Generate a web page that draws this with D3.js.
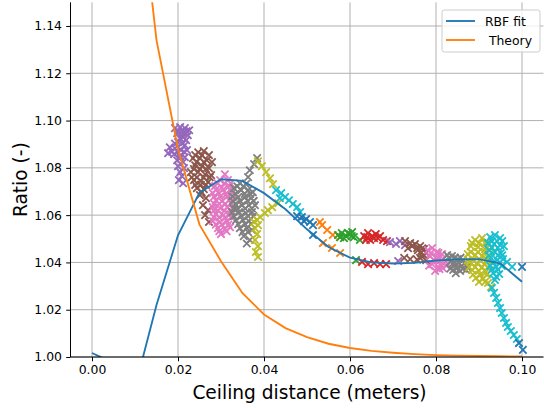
<!DOCTYPE html>
<html>
<head>
<meta charset="utf-8">
<script src="https://cdn.jsdelivr.net/npm/d3@7"></script>
<style>
  body { margin: 0; background: #fff; }
  text { font-family: "DejaVu Sans", sans-serif; fill: #000; }
</style>
</head>
<body>
<script>
// chart size, matches the reference picture
var W = 544, H = 408;
var plot = { left: 70.5, right: 543.5, top: 2.35, bottom: 357 };

// tick labels
var xTicks = [0.00, 0.02, 0.04, 0.06, 0.08, 0.10];
var yTicks = [1.00, 1.02, 1.04, 1.06, 1.08, 1.10, 1.12, 1.14];

// fitted curves, sampled every 0.005 m
var fitX = [0, 0.005, 0.01, 0.015, 0.02, 0.025, 0.03, 0.035, 0.04, 0.045, 0.05,
            0.055, 0.06, 0.065, 0.07, 0.075, 0.08, 0.085, 0.09, 0.095, 0.1];
var rbfY = [1.0017, 0.9975, 0.987, 1.022, 1.0515, 1.0695, 1.0752, 1.0745, 1.0693, 1.0625, 1.054,
            1.0465, 1.042, 1.0400, 1.0395, 1.0398, 1.0408, 1.0413, 1.0414, 1.0395, 1.0318];
var theoryY = [1.45, 1.45, 1.214, 1.134, 1.088, 1.056, 1.0405, 1.027, 1.018, 1.0122, 1.0084,
               1.0056, 1.0038, 1.0026, 1.0018, 1.0012, 1.0008, 1.0006, 1.0004, 1.0003, 1.0002];

// measured points, one array per run
var purpleA = [[0.0193,1.0968],[0.0205,1.0972],[0.0216,1.0968],[0.0226,1.0959],[0.0198,1.0947],[0.0212,1.0947],
  [0.0223,1.0938],[0.0205,1.0925],[0.0219,1.0917],[0.0200,1.0909],[0.0216,1.0896],[0.0181,1.0887],[0.0193,1.0883],
  [0.0207,1.0875],[0.0221,1.0875],[0.0177,1.0862],[0.0191,1.0858],[0.0205,1.0849],[0.0216,1.0845],[0.0198,1.0832],
  [0.0212,1.0824],[0.0200,1.0807],[0.0214,1.0799],[0.0205,1.0782],[0.0209,1.0765],[0.0202,1.0748],[0.0212,1.0735],
  [0.0200,1.0955],[0.0210,1.0955],[0.0220,1.0955],[0.0212,1.0930],[0.0193,1.0903],[0.0209,1.0903],
  [0.0186,1.0868],[0.0199,1.0868],[0.0214,1.0868],[0.0205,1.0840]];
var brownA = [[0.0247,1.0866],[0.0260,1.0871],[0.0272,1.0854],[0.0235,1.0841],[0.0251,1.0841],[0.0267,1.0832],
  [0.0279,1.0824],[0.0240,1.0811],[0.0256,1.0807],[0.0272,1.0799],[0.0230,1.0782],[0.0247,1.0782],[0.0263,1.0773],
  [0.0277,1.0769],[0.0237,1.0748],[0.0253,1.0744],[0.0270,1.0740],[0.0244,1.0714],[0.0260,1.0710],[0.0251,1.0685],
  [0.0265,1.0672],[0.0258,1.0642],[0.0270,1.0621],[0.0263,1.0600],[0.0272,1.0571],
  [0.0240,1.0854],[0.0256,1.0854],[0.0243,1.0824],[0.0260,1.0824],[0.0237,1.0795],[0.0251,1.0795],[0.0265,1.0795],
  [0.0232,1.0760],[0.0244,1.0760],[0.0260,1.0760],[0.0274,1.0760],[0.0240,1.0728],[0.0253,1.0728],[0.0265,1.0728],
  [0.0255,1.0697]];
var pinkA = [[0.0309,1.0773],[0.0298,1.0748],[0.0316,1.0748],[0.0286,1.0723],[0.0302,1.0718],[0.0319,1.0723],
  [0.0281,1.0693],[0.0295,1.0693],[0.0312,1.0689],[0.0326,1.0693],[0.0288,1.0663],[0.0302,1.0659],[0.0319,1.0663],
  [0.0281,1.0634],[0.0298,1.0630],[0.0314,1.0634],[0.0326,1.0630],[0.0288,1.0604],[0.0305,1.0600],[0.0321,1.0604],
  [0.0281,1.0575],[0.0298,1.0571],[0.0314,1.0575],[0.0293,1.0545],[0.0309,1.0541],[0.0321,1.0549],[0.0300,1.0520],
  [0.0292,1.0735],[0.0308,1.0735],[0.0322,1.0735],[0.0288,1.0708],[0.0305,1.0708],[0.0321,1.0708],
  [0.0284,1.0678],[0.0298,1.0678],[0.0314,1.0678],[0.0328,1.0678],[0.0284,1.0648],[0.0296,1.0648],[0.0310,1.0648],
  [0.0324,1.0648],[0.0283,1.0619],[0.0293,1.0619],[0.0308,1.0619],[0.0322,1.0619],[0.0284,1.0590],[0.0296,1.0590],
  [0.0310,1.0590],[0.0324,1.0590],[0.0288,1.0560],[0.0302,1.0560],[0.0317,1.0560],[0.0296,1.0532],[0.0313,1.0532]];
var grayA = [[0.0384,1.0841],[0.0377,1.0816],[0.0367,1.0790],[0.0363,1.0761],[0.0344,1.0735],[0.0358,1.0731],
  [0.0330,1.0714],[0.0347,1.0706],[0.0363,1.0706],[0.0374,1.0697],[0.0326,1.0680],[0.0340,1.0676],[0.0356,1.0676],
  [0.0370,1.0672],[0.0333,1.0647],[0.0349,1.0642],[0.0365,1.0642],[0.0379,1.0642],[0.0326,1.0613],[0.0342,1.0613],
  [0.0358,1.0609],[0.0372,1.0613],[0.0335,1.0579],[0.0351,1.0579],[0.0365,1.0575],[0.0344,1.0545],[0.0360,1.0545],
  [0.0372,1.0537],[0.0353,1.0511],[0.0367,1.0495],
  [0.0338,1.0722],[0.0352,1.0722],[0.0334,1.0690],[0.0355,1.0690],[0.0368,1.0690],[0.0328,1.0660],[0.0345,1.0660],
  [0.0362,1.0660],[0.0376,1.0660],[0.0330,1.0628],[0.0338,1.0628],[0.0356,1.0628],[0.0372,1.0628],[0.0330,1.0596],
  [0.0347,1.0596],[0.0363,1.0596],[0.0375,1.0596],[0.0340,1.0562],[0.0356,1.0562],[0.0370,1.0562],[0.0350,1.0528],
  [0.0363,1.0528],[0.0360,1.0480]];
var oliveA = [[0.0386,1.0828],[0.0395,1.0807],[0.0405,1.0782],[0.0414,1.0756],[0.0421,1.0731],
  [0.0433,1.0651],[0.0419,1.0634],[0.0409,1.0621],[0.0402,1.0609],[0.0391,1.0592],[0.0384,1.0579],[0.0377,1.0571],
  [0.0386,1.0558],[0.0379,1.0545],[0.0384,1.0520],[0.0379,1.0495],[0.0386,1.0469],[0.0381,1.0444],[0.0386,1.0423]];
var cyanA = [[0.0428,1.0706],[0.0440,1.0693],[0.0437,1.0672],[0.0449,1.0676],[0.0458,1.0663],[0.0467,1.0647],
  [0.0477,1.0634],[0.0484,1.0613]];
var blueB = [[0.0477,1.0596],[0.0488,1.0592],[0.0498,1.0583],[0.0507,1.0571],[0.0514,1.0558],[0.0493,1.0575],
  [0.0514,1.0516]];
var orangeB = [[0.0530,1.0571],[0.0535,1.0558],[0.0547,1.0537],[0.0560,1.0516],[0.0577,1.0507],
  [0.0537,1.0482],[0.0558,1.0461],[0.0577,1.0440]];
var greenB = [[0.0572,1.0516],[0.0581,1.0524],[0.0591,1.0511],[0.0600,1.0520],[0.0609,1.0507],[0.0586,1.0503],
  [0.0605,1.0528],[0.0623,1.0495],[0.0614,1.0410],[0.0577,1.0507],[0.0595,1.0524],[0.0604,1.0511]];
var redB = [[0.0633,1.0511],[0.0642,1.0524],[0.0651,1.0511],[0.0647,1.0495],[0.0660,1.0520],[0.0665,1.0503],
  [0.0677,1.0495],[0.0686,1.0490],[0.0637,1.0495],[0.0640,1.0507],[0.0656,1.0503],[0.0670,1.0511],
  [0.0628,1.0402],[0.0642,1.0393],[0.0656,1.0397],[0.0670,1.0393],[0.0684,1.0393]];
var purpleB = [[0.0693,1.0486],[0.0707,1.0478],[0.0716,1.0490],[0.0728,1.0473],[0.0712,1.0406]];
var brownB = [[0.0728,1.0490],[0.0740,1.0482],[0.0751,1.0478],[0.0763,1.0469],[0.0772,1.0456],[0.0758,1.0452],
  [0.0772,1.0431],[0.0763,1.0419],[0.0777,1.0410],[0.0744,1.0469],[0.0726,1.0419],[0.0740,1.0414],
  [0.0735,1.0460],[0.0756,1.0460],[0.0768,1.0460],[0.0765,1.0440],[0.0777,1.0440],[0.0767,1.0425],[0.0756,1.0412]];
var pinkB = [[0.0781,1.0452],[0.0791,1.0461],[0.0802,1.0444],[0.0814,1.0435],[0.0786,1.0427],[0.0800,1.0419],
  [0.0812,1.0410],[0.0823,1.0402],[0.0791,1.0393],[0.0805,1.0381],[0.0816,1.0376],[0.0798,1.0364],
  [0.0788,1.0440],[0.0806,1.0440],[0.0795,1.0410],[0.0805,1.0410],[0.0784,1.0386],[0.0812,1.0386],[0.0824,1.0386],
  [0.0808,1.0372]];
var grayB = [[0.0826,1.0431],[0.0837,1.0427],[0.0851,1.0414],[0.0863,1.0410],[0.0833,1.0402],[0.0847,1.0393],
  [0.0860,1.0385],[0.0872,1.0381],[0.0840,1.0368],[0.0856,1.0364],[0.0870,1.0368],
  [0.0830,1.0420],[0.0844,1.0420],[0.0857,1.0420],[0.0840,1.0397],[0.0853,1.0397],[0.0866,1.0397],
  [0.0833,1.0374],[0.0848,1.0374],[0.0863,1.0374],[0.0846,1.0355]];
var oliveB = [[0.0891,1.0495],[0.0907,1.0503],[0.0919,1.0486],[0.0881,1.0469],[0.0898,1.0465],[0.0914,1.0456],
  [0.0926,1.0452],[0.0874,1.0435],[0.0891,1.0431],[0.0907,1.0427],[0.0921,1.0419],[0.0879,1.0402],[0.0895,1.0397],
  [0.0912,1.0393],[0.0926,1.0389],[0.0884,1.0368],[0.0900,1.0364],[0.0916,1.0359],[0.0893,1.0334],[0.0909,1.0330],
  [0.0921,1.0313],[0.0928,1.0296],
  [0.0884,1.0482],[0.0900,1.0482],[0.0914,1.0482],[0.0881,1.0444],[0.0898,1.0444],[0.0914,1.0444],
  [0.0874,1.0410],[0.0886,1.0410],[0.0903,1.0410],[0.0919,1.0410],[0.0877,1.0380],[0.0891,1.0380],[0.0907,1.0380],
  [0.0921,1.0380],[0.0886,1.0348],[0.0903,1.0348],[0.0918,1.0348],[0.0900,1.0318],[0.0914,1.0318]];
var cyanB = [[0.0926,1.0507],[0.0937,1.0516],[0.0949,1.0503],[0.0921,1.0482],[0.0935,1.0478],[0.0949,1.0473],
  [0.0958,1.0469],[0.0923,1.0452],[0.0937,1.0444],[0.0951,1.0440],[0.0928,1.0419],[0.0942,1.0410],[0.0956,1.0414],
  [0.0926,1.0385],[0.0940,1.0381],[0.0953,1.0385],[0.0933,1.0355],[0.0947,1.0351],[0.0937,1.0326],[0.0965,1.0402],
  [0.0977,1.0381],
  [0.0930,1.0490],[0.0942,1.0490],[0.0954,1.0490],[0.0930,1.0462],[0.0944,1.0462],[0.0923,1.0430],[0.0944,1.0430],
  [0.0954,1.0430],[0.0933,1.0400],[0.0949,1.0400],[0.0930,1.0370],[0.0944,1.0370],[0.0940,1.0340],
  [0.0930,1.0292],[0.0935,1.0271],[0.0940,1.0250],[0.0944,1.0229],[0.0949,1.0207],[0.0953,1.0186],[0.0958,1.0165],
  [0.0963,1.0144],[0.0967,1.0127],[0.0974,1.0110],[0.0981,1.0093],[0.0988,1.0076]];
var blueC = [[0.1000,1.0381],[0.0993,1.0059],[0.1002,1.0030]];

var runs = [purpleA, brownA, pinkA, grayA, oliveA, cyanA, blueB, orangeB, greenB, redB,
            purpleB, brownB, pinkB, grayB, oliveB, cyanB, blueC];
var runColors = ["#9467bd", "#8c564b", "#e377c2", "#7f7f7f", "#bcbd22", "#17becf", "#1f77b4", "#ff7f0e",
                 "#2ca02c", "#d62728", "#9467bd", "#8c564b", "#e377c2", "#7f7f7f", "#bcbd22", "#17becf", "#1f77b4"];

var svg = d3.select("body").append("svg")
  .attr("width", W)
  .attr("height", H);

var x = d3.scaleLinear().domain([-0.005, 0.105]).range([plot.left, plot.right]);
var y = d3.scaleLinear().domain([1.0, 1.15]).range([plot.bottom, plot.top]);

svg.append("clipPath").attr("id", "clip")
  .append("rect")
  .attr("x", plot.left).attr("y", plot.top)
  .attr("width", plot.right - plot.left).attr("height", plot.bottom - plot.top);

// grid
svg.append("g").selectAll("line").data(xTicks).enter().append("line")
  .attr("x1", function(d) { return x(d); }).attr("x2", function(d) { return x(d); })
  .attr("y1", plot.top).attr("y2", plot.bottom)
  .attr("stroke", "#b0b0b0").attr("stroke-width", 1);
svg.append("g").selectAll("line").data(yTicks).enter().append("line")
  .attr("x1", plot.left).attr("x2", plot.right)
  .attr("y1", function(d) { return y(d); }).attr("y2", function(d) { return y(d); })
  .attr("stroke", "#b0b0b0").attr("stroke-width", 1);

// scatter runs, drawn as 'x' markers
var pts = svg.append("g").attr("clip-path", "url(#clip)");
runs.forEach(function(run, i) {
  pts.append("g").selectAll("path").data(run).enter().append("path")
    .attr("d", "M-3.7,-3.7L3.7,3.7M-3.7,3.7L3.7,-3.7")
    .attr("transform", function(d) { return "translate(" + x(d[0]) + "," + y(d[1]) + ")"; })
    .attr("stroke", runColors[i])
    .attr("stroke-width", 1.8)
    .attr("fill", "none");
});

// fit lines on top
var line = d3.line()
  .x(function(d) { return x(d[0]); })
  .y(function(d) { return y(d[1]); });
var curves = svg.append("g").attr("clip-path", "url(#clip)");
curves.append("path")
  .datum(d3.zip(fitX, rbfY))
  .attr("d", line)
  .attr("fill", "none").attr("stroke", "#1f77b4").attr("stroke-width", 1.86);
curves.append("path")
  .datum(d3.zip(fitX, theoryY))
  .attr("d", line)
  .attr("fill", "none").attr("stroke", "#ff7f0e").attr("stroke-width", 1.86);

// axes
var xAxis = svg.append("g")
  .attr("transform", "translate(0," + plot.bottom + ")")
  .call(d3.axisBottom(x).tickValues(xTicks).tickFormat(d3.format(".2f")).tickSize(4.3).tickPadding(3.8));
var yAxis = svg.append("g")
  .attr("transform", "translate(" + plot.left + ",0)")
  .call(d3.axisLeft(y).tickValues(yTicks).tickFormat(d3.format(".2f")).tickSize(4.3).tickPadding(4.3));
[xAxis, yAxis].forEach(function(a) {
  a.select(".domain").attr("stroke", "#000").attr("stroke-width", 1);
  a.selectAll(".tick line").attr("stroke", "#000").attr("stroke-width", 1);
  a.selectAll("text").attr("font-family", "DejaVu Sans").attr("font-size", "12.4px").attr("fill", "#000");
});
// matplotlib style: only the spine itself, no outer tick ends
xAxis.select(".domain").attr("d", "M" + plot.left + ",0H" + plot.right);
yAxis.select(".domain").attr("d", "M0," + plot.bottom + "V" + plot.top);

// axis labels
svg.append("text")
  .attr("x", 309.5)
  .attr("y", 399)
  .attr("text-anchor", "middle")
  .attr("font-size", "18.6px")
  .text("Ceiling distance (meters)");
svg.append("text")
  .attr("transform", "translate(27," + (plot.top + plot.bottom) / 2 + ") rotate(-90)")
  .attr("text-anchor", "middle")
  .attr("font-size", "18.6px")
  .text("Ratio (-)");

// legend
var legendItems = ["RBF fit", " Theory"];
var legendColors = ["#1f77b4", "#ff7f0e"];
var lg = svg.append("g").attr("transform", "translate(442,10)");
lg.append("rect")
  .attr("width", 98).attr("height", 42)
  .attr("rx", 2.5)
  .attr("fill", "#fff").attr("fill-opacity", 0.8)
  .attr("stroke", "#cccccc").attr("stroke-width", 1);
legendItems.forEach(function(t, i) {
  lg.append("line")
    .attr("x1", 4).attr("x2", 33)
    .attr("y1", 11 + i * 19).attr("y2", 11 + i * 19)
    .attr("stroke", legendColors[i]).attr("stroke-width", 1.86);
  lg.append("text")
    .attr("x", 43).attr("y", 15.5 + i * 19)
    .attr("font-size", "12.4px")
    .style("white-space", "pre")
    .text(t);
});
</script>
</body>
</html>
